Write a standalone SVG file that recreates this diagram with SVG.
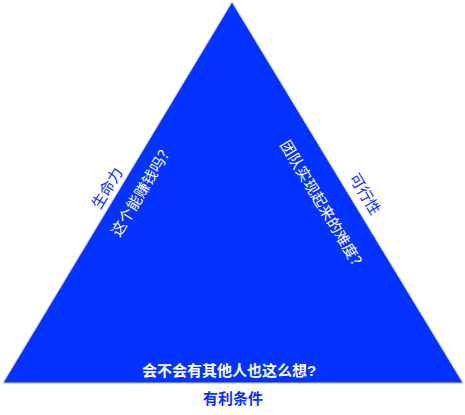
<svg xmlns="http://www.w3.org/2000/svg" width="465" height="415" viewBox="0 0 465 415">
<style>
text{font-family:"Liberation Sans","Noto Sans CJK SC",sans-serif;font-size:15px;text-anchor:middle;dominant-baseline:central}
.in{fill:#ffffff}
.out{fill:#0433ff}
.b{font-weight:bold}
</style>
<rect width="465" height="415" fill="#ffffff"/>
<g id="triangle">
<polygon points="232,2 3,383 463,383" fill="#0433ff" stroke="#c4c8e6" stroke-width="1"/>
</g>
<g id="connectors"></g>
<g id="left-labels">
<text class="out" transform="translate(107,188) rotate(-58.9)">生命力</text>
<text class="in" transform="translate(142,190) rotate(-58.9)">这个能赚钱吗？</text>
</g>
<g id="right-labels">
<text class="in" transform="translate(323,206) rotate(58.9)">团队实现起来的难度？</text>
<text class="out" transform="translate(365,194) rotate(58.9)">可行性</text>
</g>
<g id="bottom-labels">
<text class="in b" x="229" y="370">会不会有其他人也这么想?</text>
<text class="out b" x="233" y="398">有利条件</text>
</g>
</svg>
